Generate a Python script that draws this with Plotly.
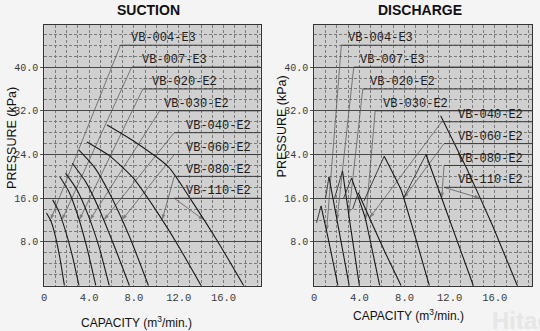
import numpy as np
import plotly.graph_objects as go

models = ["VB-004-E3", "VB-007-E3", "VB-020-E2", "VB-030-E2",
          "VB-040-E2", "VB-060-E2", "VB-080-E2", "VB-110-E2"]

# ---- SUCTION: capacity (m3/min) vs pressure (kPa) ----
suc_cap = [
    [0.2, 0.6, 1.0, 1.4, 1.8],
    [0.75, 1.3, 1.9, 2.5, 3.1],
    [1.4, 2.2, 3.0, 3.8, 4.6],
    [1.9, 2.9, 3.9, 4.9, 5.8],
    [2.5, 3.7, 4.9, 6.2, 7.6],
    [3.1, 4.5, 5.9, 7.6, 9.3],
    [3.8, 5.8, 7.9, 9.9, 11.9, 14.0],
    [5.6, 8.1, 11.1, 13.1, 15.5, 17.8],
]
suc_kpa = [
    [13.3, 11.8, 9.0, 5.0, 0.0],
    [15.7, 13.6, 10.0, 5.5, 0.0],
    [19.9, 17.2, 12.8, 7.0, 0.0],
    [20.6, 17.6, 13.0, 7.0, 0.0],
    [22.4, 19.0, 14.0, 7.5, 0.0],
    [24.8, 21.6, 16.6, 9.0, 0.0],
    [26.3, 23.8, 19.8, 14.0, 7.5, 0.0],
    [29.4, 26.3, 21.7, 15.7, 8.0, 0.0],
]
suc_line_kpa = [44, 40, 36, 32, 28, 24, 20, 16]
suc_line_cap = [6.8, 7.8, 8.8, 10.3, 11.6, 11.6, 11.6, 11.6]
suc_text_cap = [7.6, 8.5, 9.4, 10.5, 12.5, 12.5, 12.5, 12.5]
suc_arrow_kpa = [12, 12, 12, 12, 12, 12, 12, 12]

# ---- DISCHARGE: falling curves from the peak down to open flow ----
dis_cap = [
    [0.6, 1.2, 2.1],
    [1.3, 2.2, 3.1],
    [2.5, 3.2, 4.0],
    [3.3, 4.5, 5.8],
    [3.9, 4.9, 6.3, 7.7],
    [6.2, 7.7, 10.2],
    [9.9, 11.0, 14.1],
    [11.2, 13.5, 15.8, 18.0],
]
dis_kpa = [
    [14.6, 9.0, 0.0],
    [19.9, 10.0, 0.0],
    [21.0, 11.0, 0.0],
    [19.7, 12.5, 0.0],
    [17.0, 12.4, 6.0, 0.0],
    [23.7, 17.5, 0.0],
    [24.0, 17.7, 0.0],
    [31.1, 21.5, 11.0, 0.0],
]
# rising edge below each peak (capacity, kPa at its foot); None where absent
dis_rise_cap = [0.2, 1.0, 1.8, 2.6, 3.4, 4.4, 7.9, None]
dis_rise_kpa = [11.5, 16.0, 16.0, 16.0, 14.0, 15.5, 16.0, None]

dis_line_kpa = [44, 40, 36, 32, 30, 26, 22, 18]
dis_line_cap = [2.4, 3.5, 4.3, 5.4, 11.3, 11.5, 11.5, 11.5]
dis_text_cap = [2.8, 3.9, 4.8, 5.9, 12.6, 12.6, 12.6, 12.6]
dis_arrow_kpa = [10, 12, 13, 12, 12.4, 16, 16, 16]

x_ticks = [0, 4, 8, 12, 16]
x_ticktext = ["0", "4.0", "8.0", "12.0", "16.0"]
y_ticks = [8, 16, 24, 32, 40]
y_ticktext = ["8.0", "16.0", "24.0", "32.0", "40.0"]

X_MAX = 19.3
Y_MAX = 47.7
W, H = 540, 331

PLOT_BG = "#d0d0d0"
PAPER_BG = "#f4f4f4"
CURVE = "#1a1a1a"
LEADER = "#5e5e5e"
MONO = "Liberation Mono"
SANS = "Liberation Sans"

fig = go.Figure()

panels = [
    ("x", "y", suc_cap, suc_kpa, suc_line_kpa, suc_line_cap, suc_text_cap,
     suc_arrow_kpa, None, None),
    ("x2", "y2", dis_cap, dis_kpa, dis_line_kpa, dis_line_cap, dis_text_cap,
     dis_arrow_kpa, dis_rise_cap, dis_rise_kpa),
]

annotations = []
shapes = []
for xr, yr, caps, kpas, lk, lc, tc, ak, rc, rk in panels:
    for i, name in enumerate(models):
        c = np.array(caps[i])
        p = np.array(kpas[i])
        # leader from the label line down to the curve, with an arrowhead
        tx = float(np.interp(ak[i], p[::-1], c[::-1]))
        fig.add_trace(go.Scatter(
            x=[lc[i], tx], y=[lk[i], ak[i]], xaxis=xr, yaxis=yr,
            mode="lines+markers",
            line=dict(color=LEADER, width=0.8),
            marker=dict(symbol="arrow", size=[0, 6], angleref="previous",
                        color=LEADER, line=dict(width=0)),
            showlegend=False, hoverinfo="skip"))
        # underline running from the label to the right edge
        shapes.append(dict(type="line", xref=xr, yref=yr,
                           x0=lc[i], x1=X_MAX, y0=lk[i], y1=lk[i],
                           line=dict(color="#3a3a3a", width=1)))
        annotations.append(dict(xref=xr, yref=yr, x=tc[i], y=lk[i] + 1.25,
                                text=name, showarrow=False,
                                xanchor="left", yanchor="middle",
                                font=dict(family=MONO, size=12, color="#1e1e1e")))
    for i, name in enumerate(models):
        c, p = caps[i], kpas[i]
        if rc is not None and rc[i] is not None:
            # thin rising edge up to the peak
            fig.add_trace(go.Scatter(
                x=[rc[i], c[0]], y=[rk[i], p[0]], xaxis=xr, yaxis=yr, mode="lines",
                line=dict(color="#2e2e2e", width=0.9),
                showlegend=False, hoverinfo="skip"))
        fig.add_trace(go.Scatter(
            x=c, y=p, xaxis=xr, yaxis=yr, mode="lines", name=name,
            line=dict(color=CURVE, width=1.1, shape="spline",
                      smoothing=0.6 if rc is None else 0.3),
            showlegend=False, hoverinfo="skip"))

GRID_DASH = "3px,2px"

def xaxis(domain, anchor):
    return dict(domain=domain, anchor=anchor, range=[0, X_MAX],
                tickvals=x_ticks, ticktext=x_ticktext,
                tickfont=dict(family=MONO, size=10.5, color="#3a3a3a"),
                showgrid=True, gridcolor="#7a7a7a", griddash=GRID_DASH, gridwidth=0.7,
                minor=dict(dtick=1, tick0=0, showgrid=True, gridcolor="#7a7a7a",
                           griddash=GRID_DASH, gridwidth=0.7),
                showline=True, linecolor="#333", linewidth=1.2, mirror=True,
                zeroline=False, ticks="", ticklabelstandoff=2)

def yaxis(domain, anchor):
    return dict(domain=domain, anchor=anchor, range=[0, Y_MAX],
                tickvals=y_ticks, ticktext=y_ticktext,
                tickfont=dict(family=MONO, size=10, color="#3a3a3a"),
                showgrid=True, gridcolor="#474747", gridwidth=1,
                minor=dict(dtick=2, tick0=0, showgrid=True, gridcolor="#7a7a7a",
                           griddash=GRID_DASH, gridwidth=0.7),
                showline=True, linecolor="#333", linewidth=1.2, mirror=True,
                zeroline=False, ticks="outside", ticklen=3, tickcolor="#555")

yd = [1 - 285.7 / H, 1 - 25 / H]

# panel titles
for t, xc in [("SUCTION", 146), ("DISCHARGE", 419)]:
    annotations.append(dict(xref="paper", yref="paper", x=xc / W, y=1 - 10 / H,
                            text="<b>" + t + "</b>", showarrow=False,
                            xanchor="center", yanchor="middle",
                            font=dict(family=SANS, size=14, color="#111")))

# axis titles
for xc, yc in [(134, 322), (408, 315)]:
    annotations.append(dict(xref="paper", yref="paper", x=xc / W, y=1 - yc / H,
                            text="CAPACITY (m<sup>3</sup>/min.)", showarrow=False,
                            xanchor="center", yanchor="middle",
                            font=dict(family=SANS, size=12, color="#111")))
for xc, yc in [(9, 138), (281, 126)]:
    annotations.append(dict(xref="paper", yref="paper", x=xc / W, y=1 - yc / H,
                            text="PRESSURE (kPa)", showarrow=False, textangle=-90,
                            xanchor="center", yanchor="middle",
                            font=dict(family=SANS, size=12.5, color="#111")))

# faint publisher mark in the corner
annotations.append(dict(xref="paper", yref="paper", x=490 / W, y=1 - 320 / H,
                        text="<b>Hitachi</b>", showarrow=False, xanchor="left",
                        yanchor="middle",
                        font=dict(family=SANS, size=24, color="#e6e6e6")))

fig.update_layout(
    width=W, height=H,
    margin=dict(l=0, r=0, t=0, b=0),
    paper_bgcolor=PAPER_BG, plot_bgcolor=PLOT_BG,
    xaxis=xaxis([41.5 / W, 259 / W], "y"),
    yaxis=yaxis(yd, "x"),
    xaxis2=xaxis([313 / W, 532 / W], "y2"),
    yaxis2=yaxis(yd, "x2"),
    annotations=annotations,
    shapes=shapes,
)

fig.write_html("out.html")
